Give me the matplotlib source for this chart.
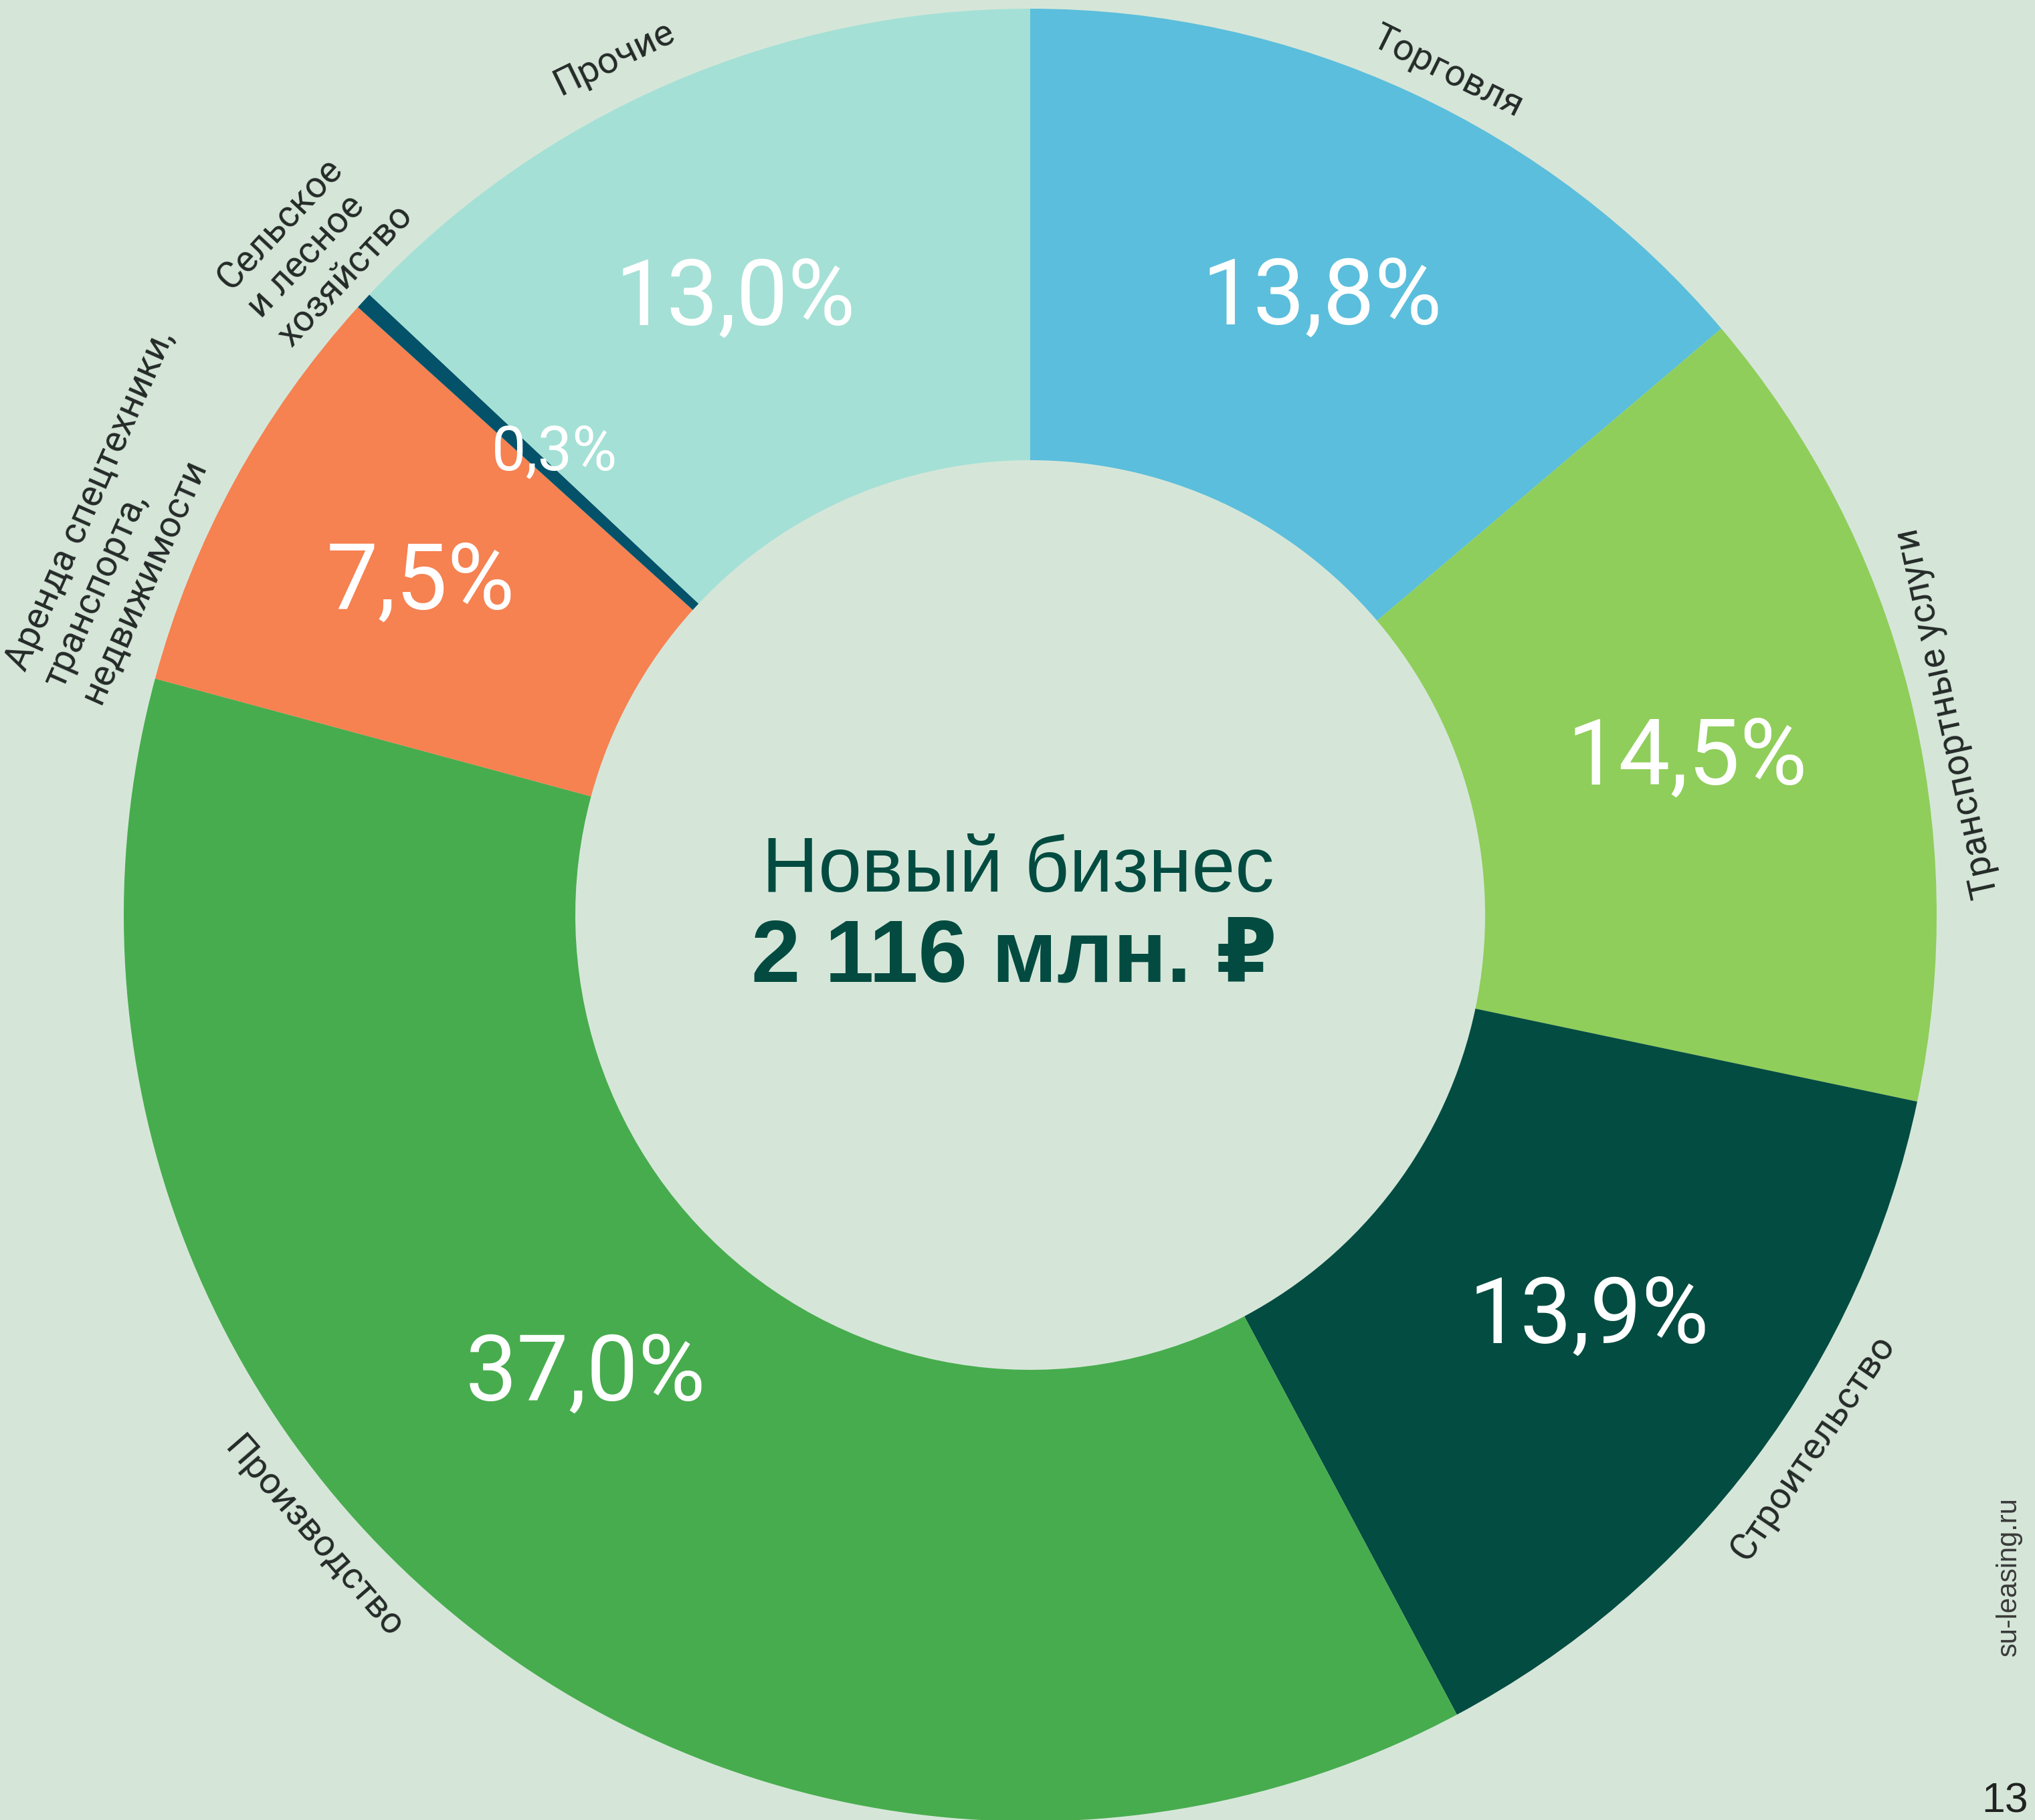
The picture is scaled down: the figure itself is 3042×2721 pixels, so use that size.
import matplotlib
matplotlib.use("Agg")
import matplotlib.pyplot as plt
import numpy as np

# --- data ---
categories = ["Торговля", "Транспортные услуги", "Строительство", "Производство",
              "Аренда спецтехники,\nтранспорта,\nнедвижимости",
              "Сельское\nи лесное\nхозяйство", "Прочие"]
shares = [13.8, 14.5, 13.9, 37.0, 7.5, 0.3, 13.0]
pct_labels = ["13,8%", "14,5%", "13,9%", "37,0%", "7,5%", "0,3%", "13,0%"]
colors = ["#5BBEDC", "#8FCE5A", "#034C41", "#47AC4D", "#F68151", "#03526A", "#A4E0D5"]
center_title = "Новый бизнес"
center_value = "2 116 млн. ₽"

# --- layout (pixels, figure is 3042 x 2721) ---
W, H = 3042, 2721
cx, cy = 1540, H - 1368
R_out, R_in = 1355, 680
bg = "#D5E6D9"
label_color = "#242A27"
# angular shifts of the labels from the wedge middle, degrees
pct_shift = [-0.5, -0.9, 1.1, -5.5, 0.1, -1.5, 2.2]
pct_r = [1019, 1009, 1030, 957, 1037, 991, 1020]
cat_shift = [-1.5, -1.8, 2.7, -10.5, 4.8, -0.4, 2.5]
cat_r = [1406, 1403, 1415, 1419, 1475, 1463, 1424]
cat_flip = [False, True, True, True, False, False, False]

fig = plt.figure(figsize=(W / 100, H / 100), dpi=100, facecolor=bg)
ax = fig.add_axes([0, 0, 1, 1])
ax.set_facecolor(bg)

wedges, _ = ax.pie(shares, colors=colors, startangle=90, counterclock=False,
                   radius=R_out, center=(cx, cy),
                   wedgeprops=dict(width=R_out - R_in, linewidth=0))

ax.set_xlim(0, W)
ax.set_ylim(0, H)
ax.set_aspect("equal")
ax.axis("off")

for i, w in enumerate(wedges):
    mid = (w.theta1 + w.theta2) / 2
    # percentage inside the ring
    a = np.deg2rad(mid + pct_shift[i])
    size = 66 if shares[i] < 1 else 99
    ax.text(cx + pct_r[i] * np.cos(a), cy + pct_r[i] * np.sin(a), pct_labels[i],
            color="white", fontsize=size, family=["Roboto", "DejaVu Sans"],
            ha="center", va="center")
    # category name outside, along the ring
    ang = mid + cat_shift[i]
    a = np.deg2rad(ang)
    rot = ang + 90 if cat_flip[i] else ang - 90
    ax.text(cx + cat_r[i] * np.cos(a), cy + cat_r[i] * np.sin(a), categories[i],
            color=label_color, fontsize=40, family=["Roboto", "DejaVu Sans"],
            ha="center", va="center", rotation=rot, rotation_mode="anchor",
            multialignment="left", linespacing=1.2)

ax.text(1522, H - 1302, center_title, color="#034B40", fontsize=84,
        family=["Liberation Sans", "DejaVu Sans"], ha="center", va="center")
ax.text(1516, H - 1433, center_value, color="#034B40", fontsize=95, fontweight="bold",
        family=["Liberation Sans", "DejaVu Sans"], ha="center", va="center")

ax.text(3003, H - 2357, "su-leasing.ru", color="#3A3A3A", fontsize=30, rotation=90,
        family=["Liberation Sans", "DejaVu Sans"], ha="center", va="center")
ax.text(2962, 12, "13", color="#222222", fontsize=45,
        family=["Liberation Sans", "DejaVu Sans"], ha="left", va="baseline")

fig.savefig("out.png", dpi=100, facecolor=bg)
